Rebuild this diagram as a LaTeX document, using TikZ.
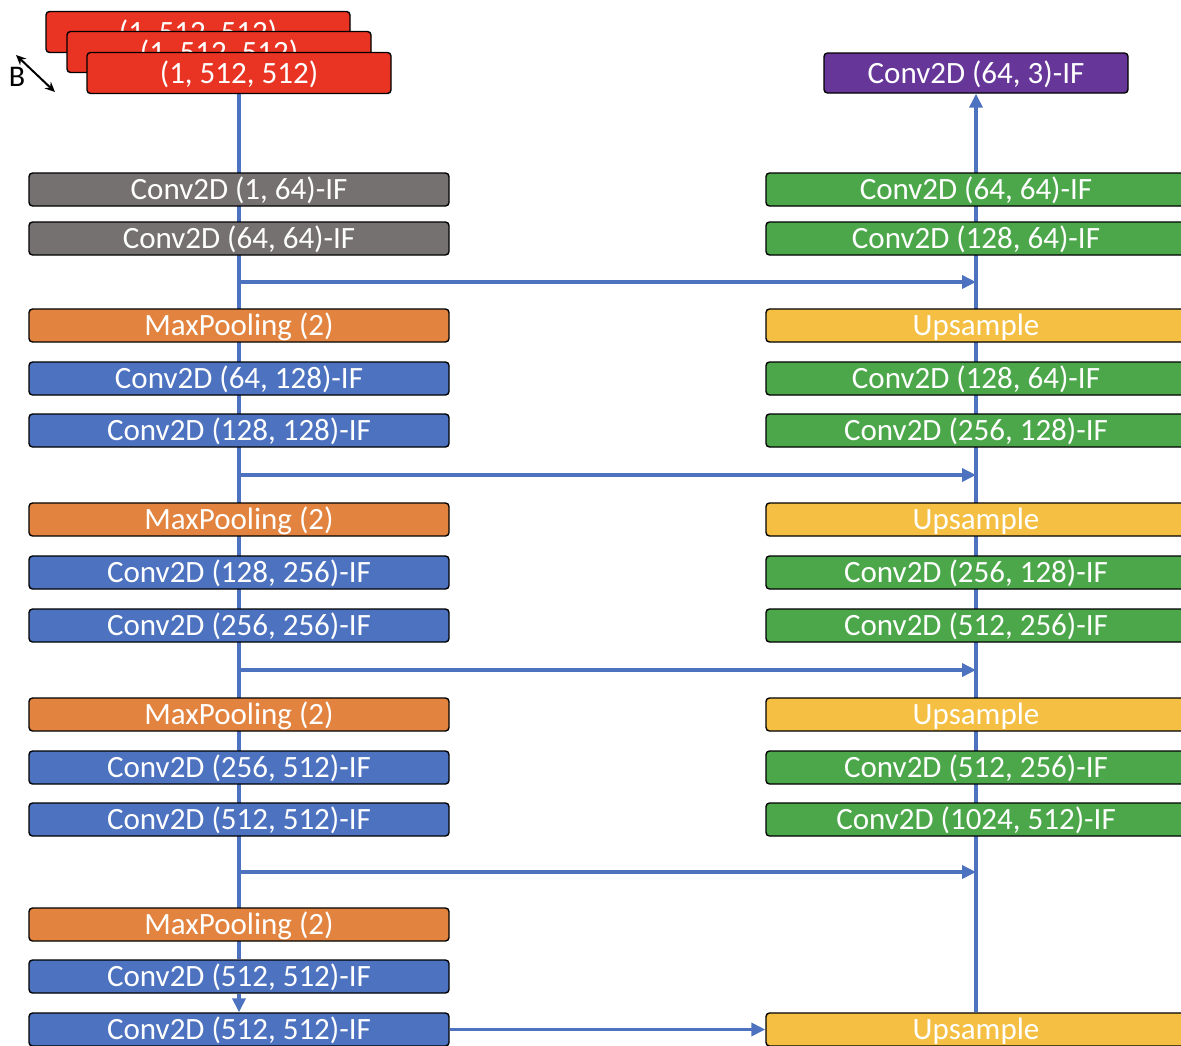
\documentclass[tikz,border=0pt]{standalone}
\usepackage{fontspec}
\setmainfont{Carlito}
\usetikzlibrary{arrows.meta,backgrounds,calc}
\definecolor{cred}{HTML}{E93323}
\definecolor{cgrey}{HTML}{767171}
\definecolor{corange}{HTML}{E2843F}
\definecolor{cblue}{HTML}{4D72BF}
\definecolor{cgreen}{HTML}{4CA74A}
\definecolor{cyellow}{HTML}{F4BF42}
\definecolor{cpurple}{HTML}{673699}
\definecolor{cline}{HTML}{4D72BF}
\tikzset{
  blk/.style={draw=black, line width=1.4pt, rounded corners=3.5pt, text=white,
    minimum width=420pt, minimum height=33pt, inner sep=0pt,
    font=\fontsize{31}{33}\selectfont, text height=26pt, text depth=6pt},
  inbox/.style={blk, fill=cred, minimum width=304pt, minimum height=41pt},
  outbox/.style={blk, fill=cpurple, minimum width=304pt, minimum height=40pt},
  greyb/.style={blk, fill=cgrey},
  orab/.style={blk, fill=corange},
  blueb/.style={blk, fill=cblue},
  greenb/.style={blk, fill=cgreen},
  yelb/.style={blk, fill=cyellow},
  flow/.style={draw=cline, line width=3.6pt},
  flowarrow/.style={flow, -{Triangle[length=14pt,width=13pt]}},
}
\begin{document}
\begin{tikzpicture}[x=1pt,y=-1pt]
\useasboundingbox (0,0) rectangle (1181,1045);
% input stack
\node[inbox] (in2) at (198,32) {(1, 512, 512)};
\node[inbox] (in1) at (219,52) {(1, 512, 512)};
\node[inbox] (in0) at (239,73) {(1, 512, 512)};
\coordinate (ba) at (16,55);
\coordinate (bb) at (55,92);
\draw[line width=2pt, {Stealth[length=10pt,width=9pt]}-{Stealth[length=10pt,width=9pt]}] (ba) -- (bb);
\node[font=\fontsize{30}{32}\selectfont, inner sep=0pt] (blab) at (17,77) {B};
% output
\node[outbox] (out) at (976,73) {Conv2D (64, 3)-IF};
% left column
\node[greyb] (l0) at (239,189.5) {Conv2D (1, 64)-IF};
\node[greyb] (l1) at (239,238.5) {Conv2D (64, 64)-IF};
\node[orab]  (l2) at (239,325.5) {MaxPooling (2)};
\node[blueb] (l3) at (239,378.5) {Conv2D (64, 128)-IF};
\node[blueb] (l4) at (239,430.5) {Conv2D (128, 128)-IF};
\node[orab]  (l5) at (239,519.5) {MaxPooling (2)};
\node[blueb] (l6) at (239,572.5) {Conv2D (128, 256)-IF};
\node[blueb] (l7) at (239,625.5) {Conv2D (256, 256)-IF};
\node[orab]  (l8) at (239,714.5) {MaxPooling (2)};
\node[blueb] (l9) at (239,767.5) {Conv2D (256, 512)-IF};
\node[blueb] (l10) at (239,819.5) {Conv2D (512, 512)-IF};
\node[orab]  (l11) at (239,924.5) {MaxPooling (2)};
\node[blueb] (l12) at (239,976.5) {Conv2D (512, 512)-IF};
\node[blueb] (l13) at (239,1029.5) {Conv2D (512, 512)-IF};
% right column
\node[greenb] (r0) at (976,189.5) {Conv2D (64, 64)-IF};
\node[greenb] (r1) at (976,238.5) {Conv2D (128, 64)-IF};
\node[yelb]   (r2) at (976,325.5) {Upsample};
\node[greenb] (r3) at (976,378.5) {Conv2D (128, 64)-IF};
\node[greenb] (r4) at (976,430.5) {Conv2D (256, 128)-IF};
\node[yelb]   (r5) at (976,519.5) {Upsample};
\node[greenb] (r6) at (976,572.5) {Conv2D (256, 128)-IF};
\node[greenb] (r7) at (976,625.5) {Conv2D (512, 256)-IF};
\node[yelb]   (r8) at (976,714.5) {Upsample};
\node[greenb] (r9) at (976,767.5) {Conv2D (512, 256)-IF};
\node[greenb] (r10) at (976,819.5) {Conv2D (1024, 512)-IF};
\node[yelb]   (r13) at (976,1029.5) {Upsample};
% connectors
\begin{scope}[on background layer]
\draw[flow] (in0.south) -- (l12.north);
\draw[flowarrow] (r13.north) -- (out.south);
\coordinate (s1) at ($(l1.south)!0.5!(l2.north)$);
\coordinate (s2) at ($(l4.south)!0.5!(l5.north)$);
\coordinate (s3) at ($(l7.south)!0.5!(l8.north)$);
\coordinate (s4) at ($(l10.south)!0.5!(l11.north)$);
\draw[flowarrow] (s1) -- (s1 -| r0);
\draw[flowarrow] (s2) -- (s2 -| r0);
\draw[flowarrow] (s3) -- (s3 -| r0);
\draw[flowarrow] (s4) -- (s4 -| r0);
\end{scope}
\draw[flowarrow] (l12.south) -- (l13.north);
\draw[flowarrow] (l13.east) -- (r13.west);
\end{tikzpicture}
\end{document}
